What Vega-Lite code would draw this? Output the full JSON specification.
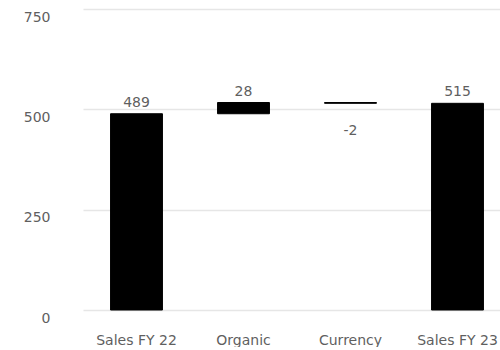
{
  "$schema": "https://vega.github.io/schema/vega-lite/v6.json",
  "autosize": {"type": "pad"},
  "padding": {"left": 5, "top": 9, "right": 0, "bottom": 0},
  "width": 428,
  "height": 301,
  "background": "white",
  "config": {
    "font": "DejaVu Sans",
    "view": {"stroke": null},
    "axis": {
      "labelFont": "DejaVu Sans",
      "labelFontSize": 14,
      "labelColor": "#5f5f5f",
      "domain": false,
      "ticks": false,
      "title": null
    }
  },
  "data": {
    "values": [
      {"step": "Sales FY 22", "start": 0, "end": 489, "delta": 489, "label": "489"},
      {"step": "Organic", "start": 489, "end": 517, "delta": 28, "label": "28"},
      {"step": "Currency", "start": 517, "end": 515, "delta": -2, "label": "-2"},
      {"step": "Sales FY 23", "start": 0, "end": 515, "delta": 515, "label": "515"}
    ]
  },
  "encoding": {
    "x": {
      "field": "step",
      "type": "nominal",
      "sort": null,
      "scale": {"paddingInner": 0.515, "paddingOuter": 0.2575},
      "axis": {"labelAngle": 0, "labelPadding": 23, "grid": false}
    }
  },
  "layer": [
    {
      "mark": {"type": "bar", "color": "black", "stroke": "black", "strokeWidth": 1},
      "encoding": {
        "y": {
          "field": "start",
          "type": "quantitative",
          "scale": {"domain": [0, 750], "nice": false},
          "axis": {
            "values": [0, 250, 500, 750],
            "grid": true,
            "gridColor": "#e6e6e6",
            "gridWidth": 1.5,
            "labelPadding": 33,
            "labelOffset": 8,
            "minExtent": 78,
            "maxExtent": 78
          }
        },
        "y2": {"field": "end"}
      }
    },
    {
      "transform": [{"filter": "datum.delta >= 0"}],
      "mark": {"type": "text", "baseline": "alphabetic", "dy": -7, "fontSize": 14, "color": "#5f5f5f", "font": "DejaVu Sans"},
      "encoding": {
        "y": {"field": "end", "type": "quantitative"},
        "text": {"field": "label"}
      }
    },
    {
      "transform": [{"filter": "datum.delta < 0"}],
      "mark": {"type": "text", "baseline": "alphabetic", "dy": 32, "fontSize": 14, "color": "#5f5f5f", "font": "DejaVu Sans"},
      "encoding": {
        "y": {"field": "end", "type": "quantitative"},
        "text": {"field": "label"}
      }
    }
  ]
}
